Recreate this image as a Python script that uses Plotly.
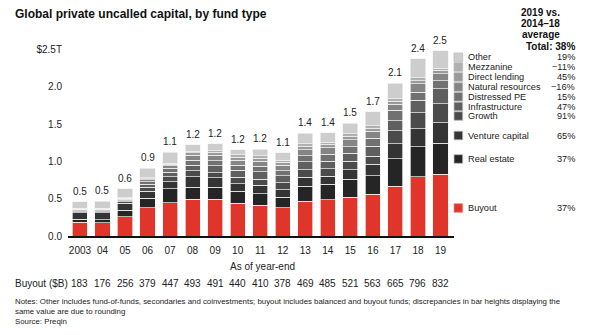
import plotly.graph_objects as go

years = ["2003", "04", "05", "06", "07", "08", "09", "10", "11", "12",
         "13", "14", "15", "16", "17", "18", "19"]
total_labels = ["0.5", "0.5", "0.6", "0.9", "1.1", "1.2", "1.2", "1.2", "1.2", "1.1",
                "1.4", "1.4", "1.5", "1.7", "2.1", "2.4", "2.5"]

# values in $B
buyout = [183, 176, 256, 379, 447, 493, 491, 440, 410, 378, 469, 485, 521, 563, 665, 796, 832]
real_estate = [45, 45, 90, 125, 190, 160, 160, 160, 160, 145, 200, 210, 240, 245, 370, 400, 410]
venture = [85, 90, 95, 100, 90, 140, 130, 100, 110, 95, 120, 110, 130, 155, 200, 245, 280]
growth = [15, 15, 20, 50, 70, 80, 70, 90, 80, 100, 100, 100, 110, 110, 180, 210, 255]
infrastructure = [10, 12, 15, 40, 60, 75, 90, 90, 100, 90, 110, 100, 110, 130, 130, 170, 200]
distressed = [12, 12, 15, 35, 50, 70, 70, 70, 75, 70, 80, 90, 90, 110, 140, 110, 110]
natural_resources = [8, 8, 10, 25, 35, 65, 70, 70, 70, 70, 80, 90, 90, 90, 80, 110, 90]
direct_lending = [5, 5, 5, 15, 20, 35, 40, 40, 40, 45, 45, 45, 45, 45, 45, 45, 45]
mezzanine = [10, 10, 10, 10, 15, 20, 25, 30, 30, 25, 35, 30, 35, 30, 30, 35, 30]
other = [85, 95, 115, 130, 150, 90, 90, 70, 90, 100, 140, 125, 140, 190, 210, 255, 235]

series_names = ["Buyout", "Real estate", "Venture capital", "Growth", "Infrastructure",
                "Distressed PE", "Natural resources", "Direct lending", "Mezzanine", "Other"]
series_values = [buyout, real_estate, venture, growth, infrastructure, distressed,
                 natural_resources, direct_lending, mezzanine, other]
series_colors = ["#e0352b", "#252525", "#343434", "#4b4b4b", "#5f5f5f", "#717171",
                 "#858585", "#9a9a9a", "#b0b0b0", "#cdcdcd"]
change_pct = ["37%", "37%", "65%", "91%", "47%", "15%", "\u221216%", "45%", "\u221211%", "19%"]
legend_y_px = [208, 159, 135.5, 116, 106.5, 96.8, 87, 77, 67, 57.3]

FONT = "Arial, 'Liberation Sans', sans-serif"
W, H = 600, 335
L, R, T, B = 68, 146, 46, 99
PW, PH = W - L - R, H - T - B


def px(x):
    return (x - L) / PW


def py(y):
    return (H - B - y) / PH


fig = go.Figure()
for name, vals, col in zip(series_names, series_values, series_colors):
    fig.add_trace(go.Bar(
        x=years, y=[v / 1000 for v in vals], name=name,
        marker=dict(color=col, line=dict(color="#f2f2f2", width=0.7)),
        width=0.67, showlegend=False, hoverinfo="skip"))

totals = [sum(s[i] for s in series_values) / 1000 for i in range(len(years))]

annotations = []
for i, (tot, lab) in enumerate(zip(totals, total_labels)):
    annotations.append(dict(x=i, y=tot, xref="x", yref="y", text=lab, showarrow=False,
                            yanchor="bottom", yshift=3,
                            font=dict(family=FONT, size=10, color="#222")))

# buyout row
annotations.append(dict(x=px(13), y=py(283), xref="paper", yref="paper", text="Buyout ($B)",
                        showarrow=False, xanchor="left", yanchor="middle",
                        font=dict(family=FONT, size=10, color="#222")))
for i, v in enumerate(buyout):
    annotations.append(dict(x=i, y=py(283), xref="x", yref="paper", text=str(v),
                            showarrow=False, yanchor="middle",
                            font=dict(family=FONT, size=10, color="#222")))

annotations.append(dict(x=px(262), y=py(266), xref="paper", yref="paper", text="As of year-end",
                        showarrow=False, yanchor="middle",
                        font=dict(family=FONT, size=10, color="#222")))

# title
annotations.append(dict(x=px(13), y=py(14), xref="paper", yref="paper",
                        text="<b>Global private uncalled capital, by fund type</b>",
                        showarrow=False, xanchor="left", yanchor="middle",
                        font=dict(family=FONT, size=12, color="#111")))

# notes
notes = ("Notes: Other includes fund-of-funds, secondaries and coinvestments; buyout includes balanced "
         "and buyout funds; discrepancies in bar heights displaying the<br>same value are due to rounding"
         "<br>Source: Preqin")
annotations.append(dict(x=px(13), y=py(295), xref="paper", yref="paper", text=notes,
                        showarrow=False, xanchor="left", yanchor="top", align="left",
                        font=dict(family=FONT, size=7.85, color="#222")))

# right header
for txt, yy in [("2019 vs.", 12), ("2014\u201318", 23), ("average", 34)]:
    annotations.append(dict(x=px(562), y=py(yy), xref="paper", yref="paper",
                            text="<b>" + txt + "</b>", showarrow=False, yanchor="middle",
                            font=dict(family=FONT, size=10, color="#111")))
annotations.append(dict(x=px(577), y=py(46), xref="paper", yref="paper",
                        text="<b>Total: 38%</b>", showarrow=False, xanchor="right",
                        yanchor="middle", font=dict(family=FONT, size=10, color="#111")))

shapes = []
for name, col, pct, yy in zip(series_names, series_colors, change_pct, legend_y_px):
    shapes.append(dict(type="rect", xref="paper", yref="paper",
                       x0=px(454), x1=px(462.7), y0=py(yy + 4.3), y1=py(yy - 4.3),
                       fillcolor=col, line=dict(color="#bdbdbd" if name != "Buyout" else "#f08a80", width=0.8)))
    annotations.append(dict(x=px(466.5), y=py(yy), xref="paper", yref="paper", text=name,
                            showarrow=False, xanchor="left", yanchor="middle",
                            font=dict(family=FONT, size=9.2, color="#222")))
    annotations.append(dict(x=px(576.5), y=py(yy), xref="paper", yref="paper", text=pct,
                            showarrow=False, xanchor="right", yanchor="middle",
                            font=dict(family=FONT, size=9.2, color="#222")))

fig.update_layout(
    template="none",
    width=W, height=H,
    margin=dict(l=L, r=R, t=T, b=B, pad=0),
    barmode="stack",
    bargap=0.33,
    plot_bgcolor="white", paper_bgcolor="white",
    annotations=annotations,
    shapes=shapes,
    xaxis=dict(type="category", range=[-0.53, 16.6], showline=True, linecolor="#111",
               linewidth=2, showgrid=False, zeroline=False, ticks="outside", ticklen=4,
               tickcolor="rgba(0,0,0,0)", automargin=False,
               tickfont=dict(family=FONT, size=10, color="#222")),
    yaxis=dict(range=[0, 2.55], tickvals=[0, 0.5, 1, 1.5, 2, 2.5],
               ticktext=["0.0", "0.5", "1.0", "1.5", "2.0", "$2.5T"],
               showline=False, showgrid=False, zeroline=False, ticks="outside", ticklen=3,
               tickcolor="rgba(0,0,0,0)", automargin=False,
               tickfont=dict(family=FONT, size=10, color="#222")),
)

fig.write_html("out.html")
